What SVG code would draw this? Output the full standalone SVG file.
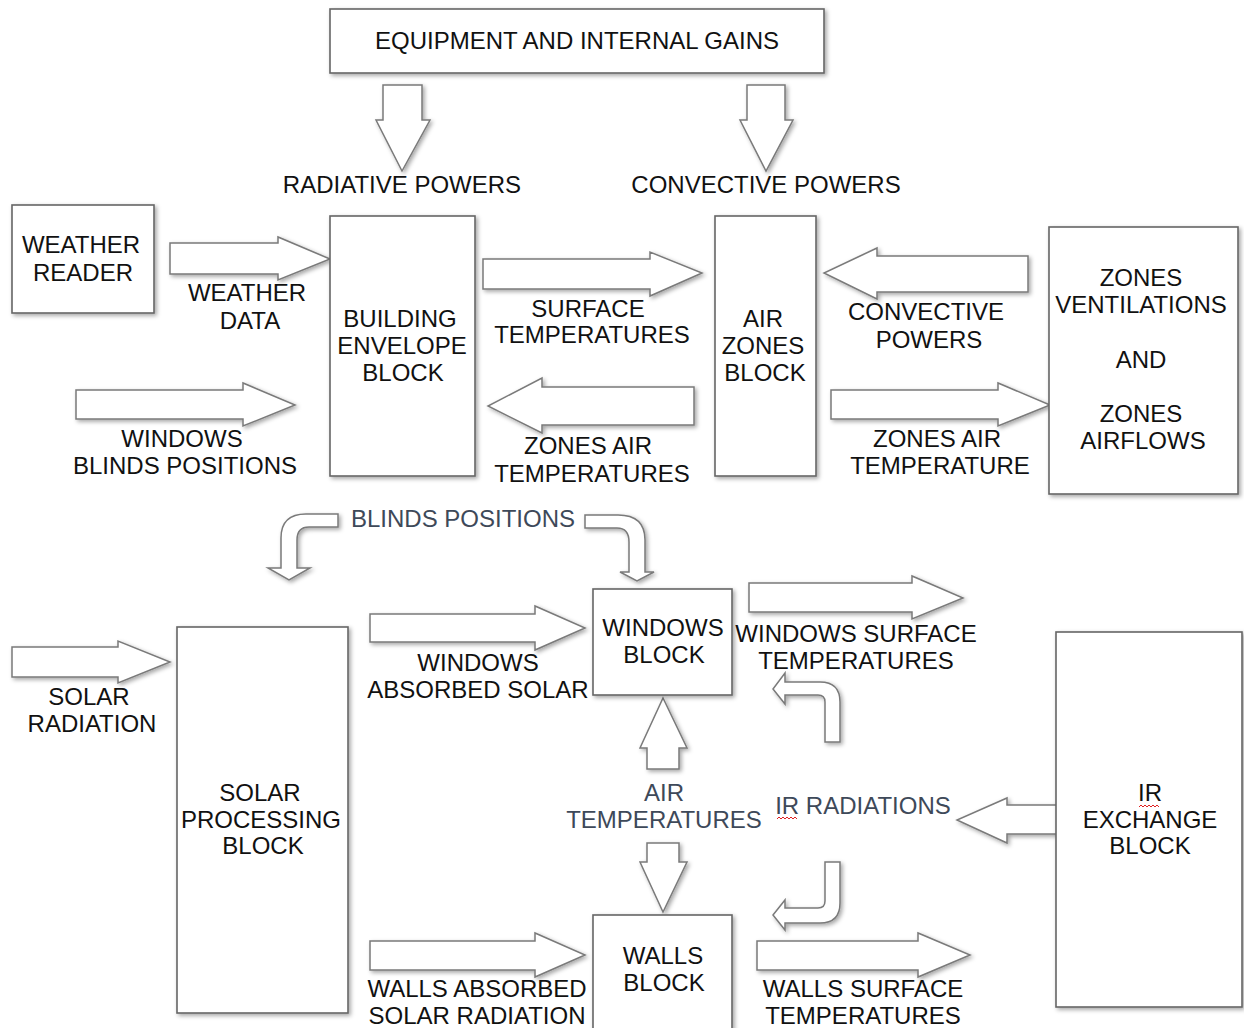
<svg xmlns="http://www.w3.org/2000/svg" width="1244" height="1028" viewBox="0 0 1244 1028">
<defs>
<filter id="sh" x="-10%" y="-10%" width="130%" height="130%">
<feDropShadow dx="2" dy="2" stdDeviation="2" flood-color="#000" flood-opacity="0.35"/>
</filter>
<style>
.box{fill:#fff;stroke:#666;stroke-width:1.6;filter:url(#sh)}
.arr{fill:#fff;stroke:#7a7a7a;stroke-width:1.5;stroke-linejoin:miter;filter:url(#sh)}
text{font-family:"Liberation Sans",Arial,sans-serif;font-size:24px;fill:#111;text-anchor:middle}
.g{fill:#3e4959}
.sq{fill:none;stroke:#e02020;stroke-width:1}
</style>
</defs>
<rect width="1244" height="1028" fill="#fff"/>
<g id="connectors">
<path class="arr" d="M383,85 H422 V120 H430 L402,171 L376,120 H383 Z"/>
<path class="arr" d="M747,85 H785 V120 H793 L766,171 L740,120 H747 Z"/>
<path class="arr" d="M170,243 H278 V237 L330,259 L278,280 V274 H170 Z"/>
<path class="arr" d="M76,390 H243 V383 L295,405 L243,426 V419 H76 Z"/>
<path class="arr" d="M483,259 H650 V252 L702,273 L650,296 V289 H483 Z"/>
<path class="arr" d="M694,387 H542 V378 L488,406 L542,433 V425 H694 Z"/>
<path class="arr" d="M1028,256 H877 V248 L824,273 L877,299 V292 H1028 Z"/>
<path class="arr" d="M831,390 H998 V383 L1050,405 L998,426 V419 H831 Z"/>
<path class="arr" d="M338,514 H306 Q281,514 281,538 V568 H268 L289,580 L310,568 H297 V540 Q297,527 309,527 H338 Z"/>
<path class="arr" d="M585,515 H618 Q645,515 645,540 V572 H654 L637,581 L620,572 H629 V542 Q629,528 617,528 H585 Z"/>
<path class="arr" d="M370,614 H535 V606 L585,628 L535,650 V642 H370 Z"/>
<path class="arr" d="M749,583 H912 V576 L963,598 L912,619 V612 H749 Z"/>
<path class="arr" d="M12,647 H118 V641 L170,662 L118,683 V677 H12 Z"/>
<path class="arr" d="M370,941 H535 V933 L585,955 L535,977 V970 H370 Z"/>
<path class="arr" d="M757,941 H918 V933 L970,955 L918,977 V970 H757 Z"/>
<path class="arr" d="M663,698 L687,748 H679 V769 H647 V748 H640 Z"/>
<path class="arr" d="M647,843 H679 V862 H687 L663,912 L640,862 H647 Z"/>
<path class="arr" d="M1058,805 H1007 V798 L957,820 L1007,843 V834 H1058 Z"/>
<path class="arr" d="M840,742 V702 Q840,682 820,682 H785 V673 L773,689 L785,704 V695 H818 Q825,695 825,702 V742 Z"/>
<path class="arr" d="M840,862 V903 Q840,923 820,923 H785 V930 L773,915 L785,900 V908 H818 Q825,908 825,901 V862 Z"/>
</g>
<g id="equipment">
<rect class="box" x="330" y="9" width="494" height="64"/>
<text x="577" y="49">EQUIPMENT AND INTERNAL GAINS</text>
</g>
<g id="weather-reader">
<rect class="box" x="12" y="205" width="142" height="108"/>
<text x="81" y="253">WEATHER</text>
<text x="83" y="281">READER</text>
</g>
<g id="building-envelope">
<rect class="box" x="330" y="216" width="145" height="260"/>
<text x="400" y="327">BUILDING</text>
<text x="402" y="354">ENVELOPE</text>
<text x="403" y="381">BLOCK</text>
</g>
<g id="air-zones">
<rect class="box" x="715" y="216" width="101" height="260"/>
<text x="763" y="327">AIR</text>
<text x="763" y="354">ZONES</text>
<text x="765" y="381">BLOCK</text>
</g>
<g id="zones-ventilations">
<rect class="box" x="1049" y="227" width="189" height="267"/>
<text x="1141" y="286">ZONES</text>
<text x="1141" y="313">VENTILATIONS</text>
<text x="1141" y="368">AND</text>
<text x="1141" y="422">ZONES</text>
<text x="1143" y="449">AIRFLOWS</text>
</g>
<g id="windows-block">
<rect class="box" x="593" y="589" width="139" height="106"/>
<text x="663" y="636">WINDOWS</text>
<text x="664" y="663">BLOCK</text>
</g>
<g id="solar-processing">
<rect class="box" x="177" y="627" width="171" height="386"/>
<text x="260" y="801">SOLAR</text>
<text x="261" y="828">PROCESSING</text>
<text x="263" y="854">BLOCK</text>
</g>
<g id="walls-block">
<rect class="box" x="593" y="915" width="139" height="118"/>
<text x="663" y="964">WALLS</text>
<text x="664" y="991">BLOCK</text>
</g>
<g id="ir-exchange">
<rect class="box" x="1056" y="632" width="186" height="375"/>
<text x="1150" y="801">IR</text>
<text x="1150" y="828">EXCHANGE</text>
<text x="1150" y="854">BLOCK</text>
<path class="sq" d="M1139,807 l2,-2 l2,2 l2,-2 l2,2 l2,-2 l2,2 l2,-2 l2,2 l2,-2 l2,2"/>
</g>
<g id="labels">
<text x="402" y="193">RADIATIVE POWERS</text>
<text x="766" y="193">CONVECTIVE POWERS</text>
<text x="247" y="301">WEATHER</text>
<text x="250" y="329">DATA</text>
<text x="182" y="447">WINDOWS</text>
<text x="185" y="474">BLINDS POSITIONS</text>
<text x="588" y="317">SURFACE</text>
<text x="592" y="343">TEMPERATURES</text>
<text x="588" y="454">ZONES AIR</text>
<text x="592" y="482">TEMPERATURES</text>
<text x="926" y="320">CONVECTIVE</text>
<text x="929" y="348">POWERS</text>
<text x="937" y="447">ZONES AIR</text>
<text x="940" y="474">TEMPERATURE</text>
<text class="g" x="463" y="527">BLINDS POSITIONS</text>
<text x="478" y="671">WINDOWS</text>
<text x="478" y="698">ABSORBED SOLAR</text>
<text x="89" y="705">SOLAR</text>
<text x="92" y="732">RADIATION</text>
<text x="856" y="642">WINDOWS SURFACE</text>
<text x="856" y="669">TEMPERATURES</text>
<text class="g" x="664" y="801">AIR</text>
<text class="g" x="664" y="828">TEMPERATURES</text>
<text class="g" x="863" y="814">IR RADIATIONS</text>
<path class="sq" d="M777,819 l2,-2 l2,2 l2,-2 l2,2 l2,-2 l2,2 l2,-2 l2,2 l2,-2 l2,2"/>
<text x="477" y="997">WALLS ABSORBED</text>
<text x="477" y="1024">SOLAR RADIATION</text>
<text x="863" y="997">WALLS SURFACE</text>
<text x="863" y="1024">TEMPERATURES</text>
</g>
</svg>
